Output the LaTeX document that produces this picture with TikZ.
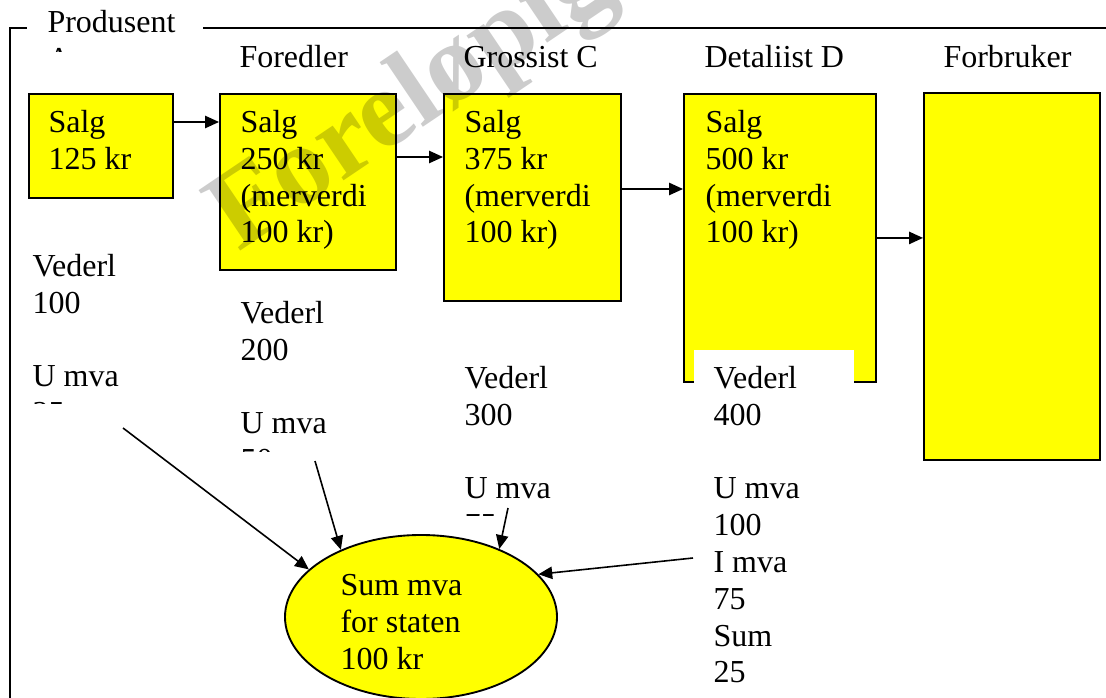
\documentclass[tikz,border=0pt]{standalone}
\usepackage{fontspec}
\setmainfont{Liberation Serif}
\usetikzlibrary{positioning, shapes.geometric, arrows.meta}
\definecolor{salgyellow}{RGB}{255,255,0}

\begin{document}
\begin{tikzpicture}[
      x=0.375pt, y=-0.375pt,
      every node/.style={font=\fontsize{12}{13.8}\selectfont, inner sep=0pt},
      txt/.style={align=left, anchor=north west},
      head/.style={anchor=base west},
      box/.style={draw, line width=0.7pt, fill=salgyellow, anchor=north west},
      panel/.style={fill=white, anchor=north west},
      oval/.style={ellipse, draw, line width=0.7pt, fill=salgyellow},
      frame/.style={line width=0.75pt},
      arrow/.style={-{Triangle[length=5.2pt, width=4.6pt]}, line width=0.6pt},
      stamp/.style={font=\fontsize{42}{48}\selectfont\bfseries, text=gray!40},
  ]
    \useasboundingbox (0,0) rectangle (1106,698);
    \clip (0,0) rectangle (1106,698);

    \draw[frame] (10,720) |- (1120,28);

    \node[box, minimum width=54pt, minimum height=39pt]    (salgA) at (28,93)  {};
    \node[box, minimum width=66pt, minimum height=66pt]    (salgB) at (219,93) {};
    \node[box, minimum width=66.4pt, minimum height=77.6pt] (salgC) at (443,93) {};
    \node[box, minimum width=72pt, minimum height=108pt]   (salgD) at (683,93) {};
    \node[box, minimum width=66pt, minimum height=137.6pt] (forbr) at (923,92) {};

    \draw[arrow] (salgA.east |- 0,122) -- (salgB.west |- 0,122);
    \draw[arrow] (salgB.east |- 0,157) -- (salgC.west |- 0,157);
    \draw[arrow] (salgC.east |- 0,189) -- (salgD.west |- 0,189);
    \draw[arrow] (salgD.east) -- (forbr.west |- salgD.east);

    \node[txt] at ([shift={(20,13.2)}]salgA.north west) {\strut Salg\\125 kr};
    \node[txt] at ([shift={(21,13.2)}]salgB.north west) {\strut Salg\\250 kr\\(merverdi\\100 kr)};
    \node[txt] at ([shift={(21,13.2)}]salgC.north west) {\strut Salg\\375 kr\\(merverdi\\100 kr)};
    \node[txt] at ([shift={(22,13.2)}]salgD.north west) {\strut Salg\\500 kr\\(merverdi\\100 kr)};

    \node[head] (hdB) at (239,68) {Foredler};
    \node[head] (hdC) at (463,68) {Grossist C};
    \node[head] (hdD) at (704,68) {Detaliist D};
    \node[head] (hdE) at (943,68) {Forbruker};

    \begin{scope}
      \clip (27,0) rectangle (203,52);
      \fill[white] (27,0) rectangle (203,52);
      \node[txt] (hdA) at (47,6.2) {\strut Produsent\\A};
    \end{scope}

    \begin{scope}
      \clip (0,200) rectangle (210,403.5);
      \node[txt] (vatA) at (32,250.2) {\strut Vederl\\100\\[13.8pt]U mva\\25};
    \end{scope}
    \begin{scope}
      \clip (220,280) rectangle (430,451.5);
      \node[txt] (vatB) at (240,297.2) {\strut Vederl\\200\\[13.8pt]U mva\\50};
    \end{scope}
    \begin{scope}
      \clip (440,340) rectangle (660,515.5);
      \node[txt] (vatC) at (464,362.2) {\strut Vederl\\300\\[13.8pt]U mva\\75};
    \end{scope}
    \node[panel, minimum width=60pt, minimum height=140pt] (vatD) at (693,349) {};
    \node[txt] at ([shift={(20,13.2)}]vatD.north west)
      {\strut Vederl\\400\\[13.8pt]U mva\\100\\I mva\\75\\Sum\\25};

    \node[oval, minimum width=102pt, minimum height=61.5pt] (sum) at (421,617) {};
    \node[txt] at (340,569.2) {\strut Sum mva\\for staten\\100 kr};

    \coordinate (tailA) at (123,428);
    \coordinate (tailB) at (315,461);
    \coordinate (tailC) at (508,508);
    \draw[arrow] (tailA) -- (sum.157);
    \draw[arrow] (tailB) -- (sum.140);
    \draw[arrow] (tailC) -- (sum.41);
    \draw[arrow] (vatD.west |- 0,558) -- (sum.20);

    \begin{scope}[blend mode=multiply]
      \node[stamp, rotate=34, anchor=base] (mark) at (428,124) {Foreløpig};
    \end{scope}
  \end{tikzpicture}
\end{document}
